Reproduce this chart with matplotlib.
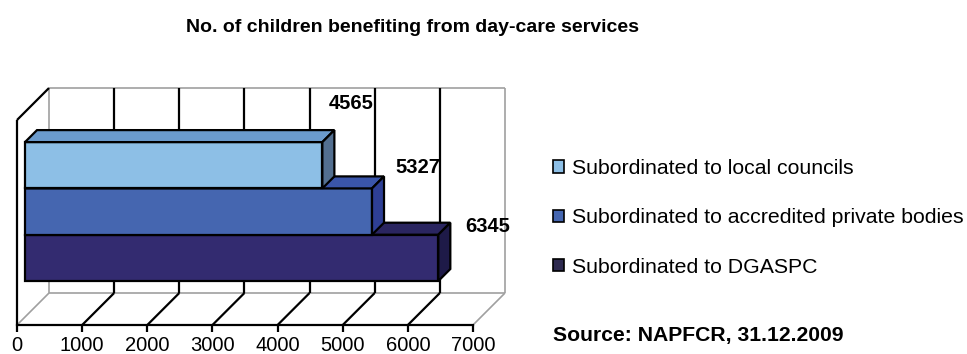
import matplotlib
matplotlib.use("Agg")
import matplotlib.pyplot as plt
from matplotlib.patches import Polygon, Patch

# ── data ─────────────────────────────────────────────
categories = ["Subordinated to local councils",
              "Subordinated to accredited private bodies",
              "Subordinated to DGASPC"]
values = [4565, 5327, 6345]
x_ticks = [0, 1000, 2000, 3000, 4000, 5000, 6000, 7000]
title = "No. of children benefiting from day-care services"
source = "Source: NAPFCR, 31.12.2009"

# ── style ────────────────────────────────────────────
front_c = ["#8DBFE6", "#4566B0", "#332B70"]
top_c   = ["#6B9BCD", "#3A55AA", "#2A2560"]
side_c  = ["#536F90", "#2E3F95", "#1E1A48"]
legend_c = ["#8DBFE6", "#4566B0", "#2E2A50"]
label_off = [(-6, 27), (11, 9), (15, -4)]   # value label offsets (px)

plt.rcParams["font.family"] = ["Liberation Sans", "DejaVu Sans"]

W, H = 967, 354
fig = plt.figure(figsize=(W / 100, H / 100), dpi=100)

# axes: bottom edge = front floor line, x 0..7000
ax = fig.add_axes([17 / W, 29 / H, 456 / W, 237 / H])
XMAX = x_ticks[-1]
ax.set_xlim(0, XMAX)
ax.set_ylim(0, 237)

DX = 32 * XMAX / 456      # depth shift in value units
DY = 32                   # depth shift in y units (px)
WALL_H = 205
D0, D1 = 0.25, 0.625      # bar depth range


def P(v, y, d):
    return (v + d * DX, y + d * DY)


def seg(a, b, **kw):
    ax.plot([a[0], b[0]], [a[1], b[1]], clip_on=False, solid_capstyle="butt", **kw)


gray = dict(color="#A0A0A0", lw=1.2)
blk = dict(color="black", lw=1.6)

# back wall + floor outline
seg(P(0, 0, 1), P(0, WALL_H, 1), **gray)
seg(P(0, WALL_H, 1), P(XMAX, WALL_H, 1), **gray)
seg(P(XMAX, 0, 1), P(XMAX, WALL_H, 1), **gray)
seg(P(0, 0, 1), P(XMAX, 0, 1), **gray)
seg(P(0, 0, 0), P(0, 0, 1), **gray)
seg(P(XMAX, 0, 0), P(XMAX, 0, 1), **gray)
for t in x_ticks[1:-1]:
    seg(P(t, 0, 1), P(t, WALL_H, 1), **blk)
    seg(P(t, 0, 0), P(t, 0, 1), **blk)

# left wall front edges
seg(P(0, 0, 0), P(0, WALL_H, 0), **blk)
seg(P(0, WALL_H, 0), P(0, WALL_H, 1), **blk)

# bars (bottom first so upper bars overlap)
BAR_Y0, BAR_H = 36, 46.3
n = len(values)
for k in range(n - 1, -1, -1):
    v = values[k]
    y0 = BAR_Y0 + (n - 1 - k) * BAR_H
    y1 = y0 + BAR_H
    front = [P(0, y0, D0), P(v, y0, D0), P(v, y1, D0), P(0, y1, D0)]
    top = [P(0, y1, D0), P(v, y1, D0), P(v, y1, D1), P(0, y1, D1)]
    side = [P(v, y0, D0), P(v, y0, D1), P(v, y1, D1), P(v, y1, D0)]
    for poly, c in [(front, front_c[k]), (top, top_c[k]), (side, side_c[k])]:
        ax.add_patch(Polygon(poly, closed=True, facecolor=c, edgecolor="black",
                             lw=1.6, joinstyle="miter", clip_on=False, zorder=3))
    ax.annotate(f"{v}", xy=P(v, y1, D1),
                xytext=(label_off[k][0] * 0.72, label_off[k][1] * 0.72),
                textcoords="offset points", ha="left", va="center",
                fontsize=14.5, fontweight="bold", zorder=5, annotation_clip=False)

# front axis
for s in ["top", "right", "left"]:
    ax.spines[s].set_visible(False)
ax.spines["bottom"].set_linewidth(1.6)
ax.set_xticks(x_ticks)
ax.set_xticklabels([str(t) for t in x_ticks], fontsize=14.5)
ax.tick_params(axis="x", length=5, width=1.6, pad=3, color="black")
ax.set_yticks([])
ax.patch.set_visible(False)

# legend
handles = [Patch(facecolor=c, edgecolor="black", lw=1.2) for c in legend_c]
fig.legend(handles, categories, loc="upper left", bbox_to_anchor=(553 / W, 1 - 159 / H),
           frameon=False, fontsize=15.3, handlelength=0.5, handleheight=0.5,
           handletextpad=0.38, labelspacing=1.43, borderpad=0, borderaxespad=0)

fig.text(412 / W, 1 - 28 / H, title, ha="center", va="center",
         fontsize=14, fontweight="bold")
fig.text(553 / W, 1 - 335 / H, source, ha="left", va="center",
         fontsize=15.2, fontweight="bold")

fig.savefig("out.png", dpi=100)
